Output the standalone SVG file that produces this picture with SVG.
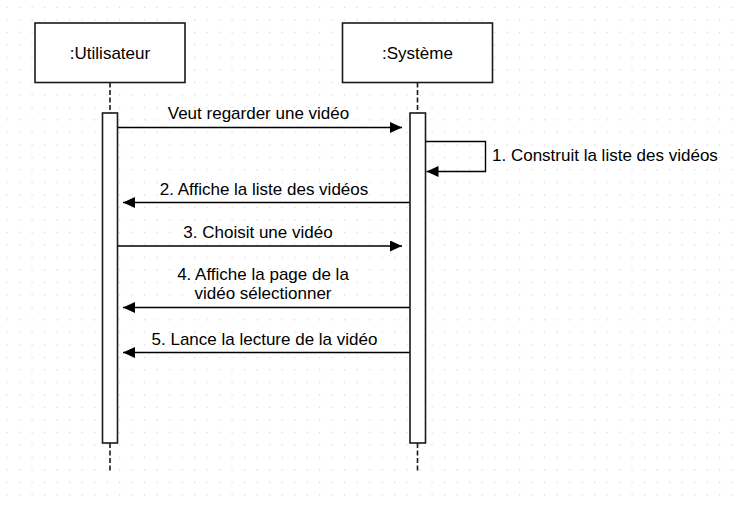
<svg xmlns="http://www.w3.org/2000/svg" width="737" height="505" viewBox="0 0 737 505">
<defs>
<pattern id="grid" x="6.5" y="6.8" width="12.5" height="12.5" patternUnits="userSpaceOnUse">
<rect x="0" y="0" width="1.2" height="1.2" fill="#d4d4d4"/>
</pattern>
<marker id="arr" markerUnits="userSpaceOnUse" markerWidth="13" markerHeight="12" refX="12" refY="5.5" orient="auto">
<path d="M0,0 L12,5.5 L0,11 z" fill="#000"/>
</marker>
<style>
.box{fill:#fff;stroke:#1a1a1a;stroke-width:1.6}
.act{fill:#fff;stroke:#1a1a1a;stroke-width:1.6}
.life{stroke:#1a1a1a;stroke-width:1.6;stroke-dasharray:5 2.5;fill:none}
.msg{stroke:#000;stroke-width:1.4;fill:none;marker-end:url(#arr)}
text{font-family:"Liberation Sans",Arial,sans-serif;font-size:17px;fill:#000}
.c{text-anchor:middle}
</style>
</defs>
<rect width="737" height="505" fill="#fff"/>
<rect width="737" height="505" fill="url(#grid)"/>
<g id="utilisateur">
<line class="life" x1="110" y1="82.5" x2="110" y2="113"/>
<line class="life" x1="110" y1="443" x2="110" y2="473"/>
<rect class="box" x="35" y="23" width="150" height="59.5"/>
<text class="c" x="110" y="59">:Utilisateur</text>
<rect class="act" x="102.5" y="113" width="15" height="330"/>
</g>
<g id="systeme">
<line class="life" x1="417.5" y1="82.5" x2="417.5" y2="113"/>
<line class="life" x1="417.5" y1="443" x2="417.5" y2="473"/>
<rect class="box" x="342.5" y="23" width="150" height="59.5"/>
<text class="c" x="417.5" y="59">:Système</text>
<rect class="act" x="410" y="113" width="15.5" height="330"/>
</g>
<g id="connectors">
<line class="msg" x1="118" y1="127.5" x2="402" y2="127.5"/>
<text class="c" x="258.5" y="119">Veut regarder une vidéo</text>
<path class="msg" d="M426,141.5 H485.5 V171.5 H426.5"/>
<text x="492" y="160.5">1. Construit la liste des vidéos</text>
<line class="msg" x1="409.5" y1="202.5" x2="123" y2="202.5"/>
<text class="c" x="264" y="195">2. Affiche la liste des vidéos</text>
<line class="msg" x1="118" y1="246" x2="402" y2="246"/>
<text class="c" x="258" y="237.5">3. Choisit une vidéo</text>
<line class="msg" x1="409.5" y1="307.5" x2="123" y2="307.5"/>
<text class="c" x="263" y="280">4. Affiche la page de la</text>
<text class="c" x="263" y="299">vidéo sélectionner</text>
<line class="msg" x1="409.5" y1="352.5" x2="123" y2="352.5"/>
<text class="c" x="264.5" y="344.5">5. Lance la lecture de la vidéo</text>
</g>
</svg>
